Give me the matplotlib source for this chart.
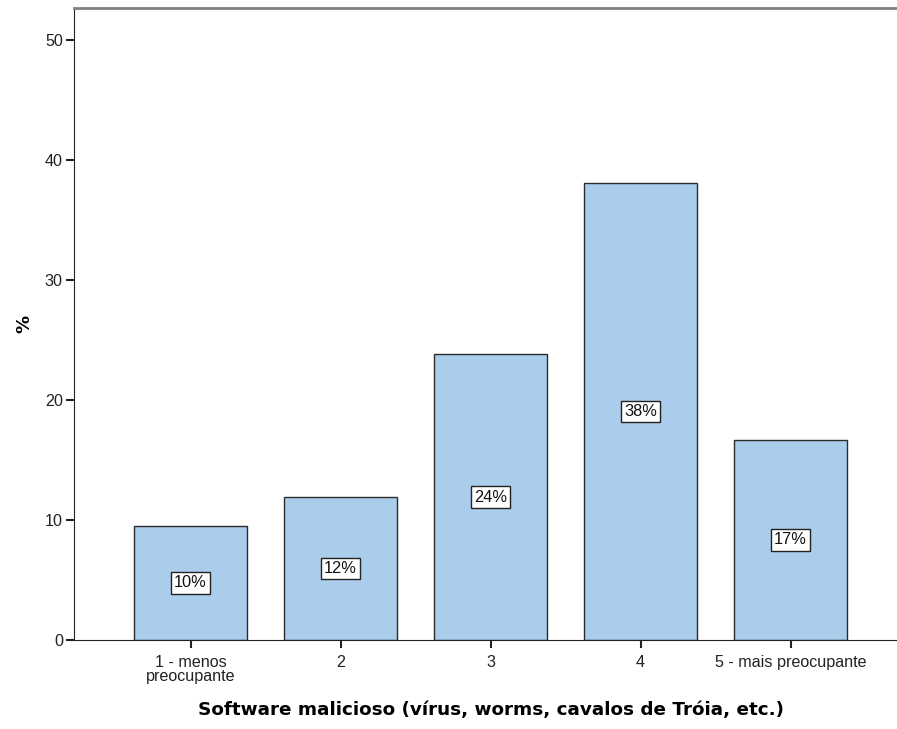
import matplotlib
matplotlib.use("Agg")
import matplotlib.pyplot as plt

categories = ["1 - menos\npreocupante", "2", "3", "4", "5 - mais preocupante"]
values = [9.52, 11.90, 23.81, 38.10, 16.67]
labels = ["10%", "12%", "24%", "38%", "17%"]
yticks = [0, 10, 20, 30, 40, 50]

plt.rcParams['font.family'] = ['Liberation Sans', 'DejaVu Sans']

fig = plt.figure(figsize=(8.97, 7.29), dpi=100)
ax = fig.add_axes([74/897, 89/729, 1 - 74/897, (640 - 8)/729])

x = list(range(len(categories)))
ax.bar(x, values, width=0.755, color='#AACDEC', edgecolor='#2b2b2b', linewidth=1.0, zorder=2)

for xi, v, lab in zip(x, values, labels):
    ax.text(xi, v / 2, lab, ha='center', va='center', fontsize=11.8, color='#111111',
            bbox=dict(boxstyle='square,pad=0.2', facecolor='white', edgecolor='#222222', linewidth=1.0),
            zorder=3)

ax.set_xlim(-0.777, 4.71)
ax.set_ylim(0, 52.67)
ax.set_xticks(x)
ax.set_xticklabels(categories, fontsize=11.6, linespacing=0.93, color='#222222')
ax.set_yticks(yticks)
ax.set_yticklabels([str(t) for t in yticks], fontsize=11.6, color='#222222')

ax.spines['right'].set_visible(False)
ax.spines['top'].set_color('#808080')
ax.spines['top'].set_linewidth(2)
ax.spines['left'].set_color('#222222')
ax.spines['bottom'].set_color('#222222')
ax.tick_params(axis='both', length=6, width=1.5, color='#222222', pad=2)
ax.tick_params(axis='x', pad=5)

ax.set_xlabel("Software malicioso (vírus, worms, cavalos de Tróia, etc.)", fontsize=13.2,
              fontweight='bold', family=['DejaVu Sans'])
ax.xaxis.set_label_coords(0.507, -0.097)
ax.set_ylabel("%", fontsize=13, fontweight='bold', family=['DejaVu Sans'], labelpad=8)

fig.savefig("out.png", dpi=100)
